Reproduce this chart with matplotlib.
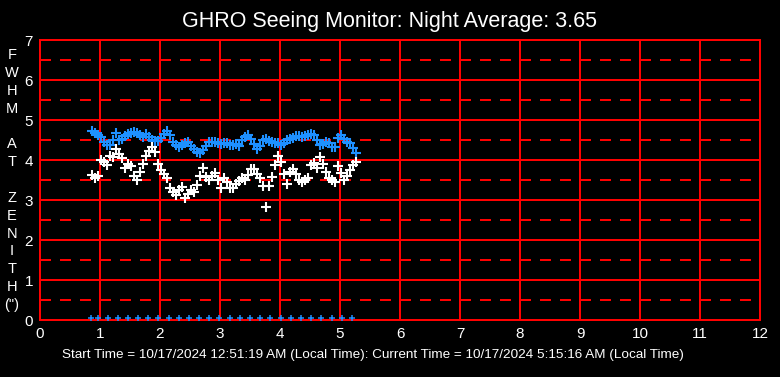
import matplotlib
matplotlib.use("Agg")
import matplotlib.pyplot as plt

plt.rcParams["font.family"] = ["Liberation Sans", "DejaVu Sans"]
plt.rcParams["lines.scale_dashes"] = False

# minutes after midnight of each sample
minutes = [52, 55, 58, 61, 64, 67, 70, 73, 76, 79, 82, 85, 88, 91, 94, 97, 100, 103,
           106, 109, 112, 115, 118, 121, 124, 127, 130, 133, 136, 139, 142, 145, 148,
           151, 154, 157, 160, 163, 166, 169, 172, 175, 178, 181, 184, 187, 190, 193,
           196, 199, 202, 205, 208, 211, 214, 217, 220, 223, 226, 229, 232, 235, 238,
           241, 244, 247, 250, 253, 256, 259, 262, 265, 268, 271, 274, 277, 280, 283,
           286, 289, 292, 295, 298, 301, 304, 307, 310, 313, 316]

blue_fwhm = [4.72, 4.67, 4.62, 4.57, 4.45, 4.38, 4.38, 4.50, 4.68, 4.50, 4.52, 4.60,
             4.66, 4.68, 4.70, 4.68, 4.62, 4.57, 4.66, 4.57, 4.50, 4.47, 4.47, 4.55,
             4.65, 4.72, 4.62, 4.45, 4.38, 4.33, 4.38, 4.43, 4.44, 4.36, 4.27, 4.20,
             4.17, 4.25, 4.35, 4.44, 4.45, 4.44, 4.42, 4.40, 4.42, 4.42, 4.38, 4.38,
             4.40, 4.35, 4.50, 4.57, 4.62, 4.52, 4.40, 4.28, 4.35, 4.50, 4.52, 4.47,
             4.45, 4.43, 4.43, 4.38, 4.43, 4.50, 4.53, 4.56, 4.60, 4.60, 4.57, 4.60,
             4.63, 4.65, 4.63, 4.50, 4.37, 4.40, 4.44, 4.42, 4.33, 4.33, 4.55, 4.62,
             4.52, 4.46, 4.42, 4.30, 4.17]

white_fwhm = [3.62, 3.55, 3.60, 4.00, 3.95, 3.88, 4.10, 4.07, 4.28, 4.15, 4.05, 3.80,
              3.90, 3.85, 3.60, 3.50, 3.70, 3.90, 4.10, 4.22, 4.32, 4.20, 3.90, 3.75,
              3.65, 3.55, 3.30, 3.20, 3.13, 3.25, 3.32, 3.05, 3.15, 3.25, 3.20, 3.37,
              3.60, 3.80, 3.58, 3.50, 3.60, 3.67, 3.50, 3.30, 3.55, 3.45, 3.30, 3.30,
              3.40, 3.47, 3.55, 3.50, 3.62, 3.78, 3.77, 3.65, 3.55, 3.35, 2.82, 3.35,
              3.57, 3.87, 4.10, 3.95, 3.65, 3.40, 3.70, 3.77, 3.65, 3.50, 3.45, 3.50,
              3.55, 3.87, 3.92, 3.80, 4.07, 3.90, 3.70, 3.55, 3.50, 3.45, 3.85, 3.67,
              3.50, 3.60, 3.75, 3.87, 3.95]

# baseline markers along the bottom
base_minutes = [51, 58, 68, 78, 88, 98, 108, 118, 129, 139, 149, 159, 169, 179,
                190, 200, 210, 220, 230, 241, 251, 261, 271, 281, 292, 302, 312]
base_level = 0.05

night_avg = 3.65
start_txt = "10/17/2024 12:51:19 AM"
current_txt = "10/17/2024 5:15:16 AM"

fig = plt.figure(figsize=(7.8, 3.77), dpi=100, facecolor="black")
ax = fig.add_axes([40 / 780, 57 / 377, 720 / 780, 280 / 377])
ax.set_facecolor("black")

ax.set_xlim(0, 12)
ax.set_ylim(0, 7)

# grid: solid at integers, dashed at half steps
for xv in range(1, 12):
    ax.axvline(xv, color="#FF0000", lw=1.4, zorder=1, antialiased=False)
for yv in range(1, 7):
    ax.axhline(yv, color="#FF0000", lw=1.4, zorder=1, antialiased=False)
for k in range(7):
    ax.axhline(k + 0.5, color="#FF0000", lw=1.4, dashes=(7.9, 6.5), zorder=1,
               antialiased=False)

for s in ax.spines.values():
    s.set_color("#FF0000")
    s.set_linewidth(1.4)
    s.set_antialiased(False)

hours = [m / 60 for m in minutes]
ax.plot(hours, blue_fwhm, "+", color="#1E90FF", ms=7, mew=1.5, zorder=3)
ax.plot(hours, white_fwhm, "+", color="white", ms=7, mew=1.5, zorder=3)
ax.plot([m / 60 for m in base_minutes], [base_level] * len(base_minutes), "+",
        color="#1E90FF", ms=5, mew=1.1, zorder=3)

ax.set_xticks(range(13))
ax.set_yticks(range(8))
ax.tick_params(colors="white", length=0, labelsize=11, pad=5)

fig.text(390 / 780, 1 - 21 / 377, f"GHRO Seeing Monitor: Night Average: {night_avg:.2f}",
         color="white", fontsize=15.5, ha="center", va="center")
fig.text(373 / 780, 1 - 355 / 377,
         f"Start Time = {start_txt} (Local Time): Current Time = {current_txt} (Local Time)",
         color="white", fontsize=9.7, ha="center", va="center")
fig.text(12 / 780, 1 - 180 / 377, "F\nW\nH\nM\n\nA\nT\n\nZ\nE\nN\nI\nT\nH\n(\")",
         color="white", fontsize=10.5, ha="center", va="center", linespacing=1.35)

fig.savefig("out.png", dpi=100, facecolor="black")
